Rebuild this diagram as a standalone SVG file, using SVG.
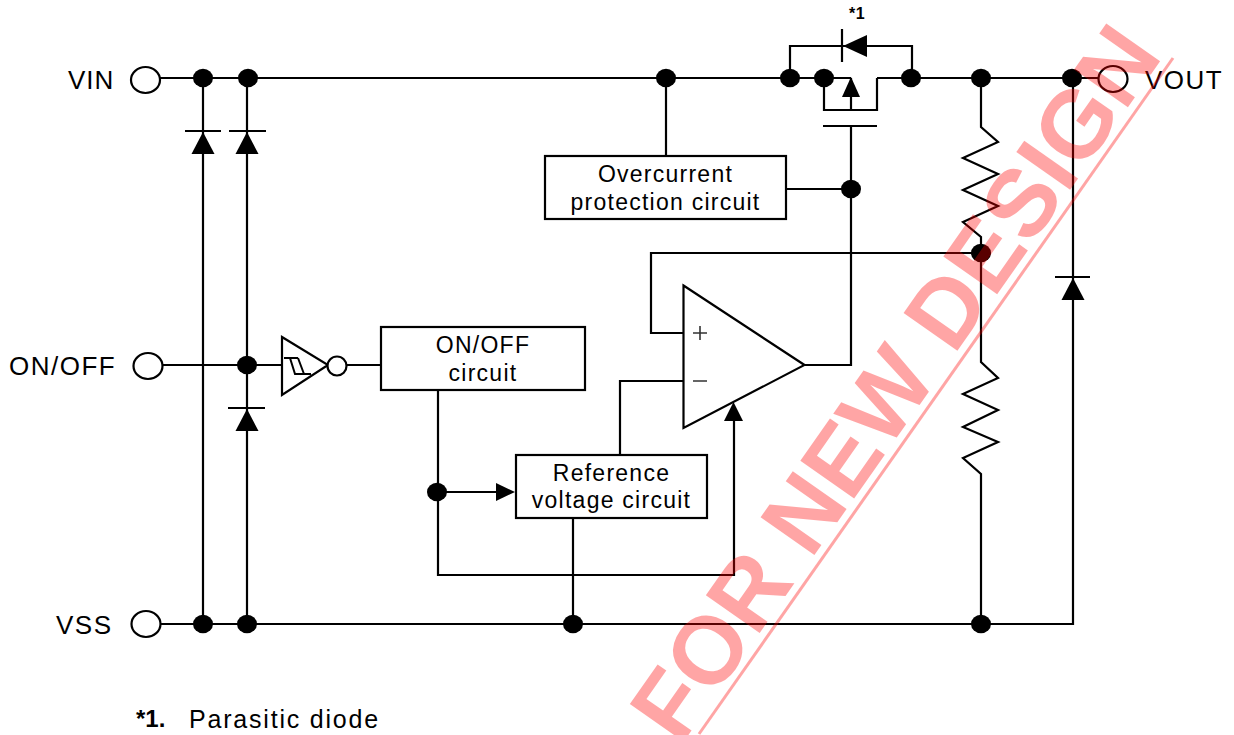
<svg xmlns="http://www.w3.org/2000/svg" width="1234" height="735" viewBox="0 0 1234 735">
<defs>
<style>
text{font-family:"Liberation Sans",Arial,sans-serif;fill:#000}
.lb{font-size:26px;letter-spacing:1.5px}
.bx{font-size:23px;letter-spacing:1.25px;text-anchor:middle}
.w{fill:none;stroke:#000;stroke-width:2.2;stroke-linejoin:miter}
.b{fill:#fff;stroke:#000;stroke-width:2.2}
.t{fill:none;stroke:#000;stroke-width:2}
.d{fill:#000;stroke:none}
.s{fill:none;stroke:#333;stroke-width:1.6}
</style>
<ellipse id="dot" class="d" rx="10" ry="9.300"/>
<path id="up" class="d" d="M0-11L11.500 11H-11.500Z"/>
</defs>
<rect width="1234" height="735" fill="#fff"/>
<g id="connectors" class="w">
<path d="M160 78H851M877 78H1099"/>
<path d="M160 624H1073V78"/>
<path d="M162 365H282M347 365H381"/>
<path d="M203 78V624M247 78V624"/>
<path d="M185 131H221M229 131H266M228 408H265M1055 277H1090"/>
<path d="M790 78V46H912V78M842 29V62"/>
<path d="M824 78V110H877V78M851 78V110M823 126H877M851 126V365H805M787 189H851"/>
<path d="M666 78V156"/>
<path d="M981 78V127L998 142L963 158L998 174L963 190L998 206L963 222L981 237V253"/>
<path d="M981 253H651V333H684"/>
<path d="M981 253V362L998 378L963 394L998 410L963 427L998 442L963 458L981 474V624"/>
<path d="M438 390V575H734V415M438 492H500M620 455V381H684M573 519V624"/>
</g>
<use href="#up" x="203" y="143"/>
<use href="#up" x="247" y="143"/>
<use href="#up" x="247" y="420"/>
<use href="#up" x="1073" y="289"/>
<path class="d" d="M851 77L860 97H842Z"/>
<path class="d" d="M733.500 402L743 421H724Z"/>
<path class="d" d="M843 46L867 35V57Z"/>
<path class="d" d="M515 492L496 483V501Z"/>
<g id="dots">
<use href="#dot" x="203" y="78"/><use href="#dot" x="248" y="78"/><use href="#dot" x="666" y="78"/>
<use href="#dot" x="790" y="78"/><use href="#dot" x="824" y="78"/><use href="#dot" x="911" y="78"/>
<use href="#dot" x="981" y="78"/><use href="#dot" x="1072" y="78"/><use href="#dot" x="851" y="189"/>
<use href="#dot" x="981" y="253"/><use href="#dot" x="247" y="365"/><use href="#dot" x="437" y="492"/>
<use href="#dot" x="203" y="624"/><use href="#dot" x="247" y="624"/><use href="#dot" x="573" y="624"/><use href="#dot" x="981" y="624"/>
</g>
<g id="vin"><ellipse class="b" cx="145.500" cy="80" rx="14.500" ry="13"/><text class="lb" x="68" y="88.500" style="letter-spacing:1px">VIN</text></g>
<g id="onoff"><ellipse class="b" cx="148" cy="366" rx="14.500" ry="13"/><text class="lb" x="9" y="374.500">ON/OFF</text></g>
<g id="vss"><ellipse class="b" cx="146" cy="624" rx="14.500" ry="13"/><text class="lb" x="56" y="633.500">VSS</text></g>
<g id="vout"><ellipse class="b" cx="1113" cy="79" rx="14.500" ry="13"/><text class="lb" x="1145" y="88.500">VOUT</text></g>
<g id="parasitic"><text x="849" y="19" font-size="16" font-weight="bold" letter-spacing=".5">*1</text></g>
<g id="overcurrent"><rect class="b" x="545" y="156" width="241" height="63"/><text class="bx" x="665.500" y="182">Overcurrent</text><text class="bx" x="665.500" y="210">protection circuit</text></g>
<g id="onoffcircuit"><rect class="b" x="381" y="327" width="204" height="63"/><text class="bx" x="483" y="353">ON/OFF</text><text class="bx" x="483" y="381">circuit</text></g>
<g id="reference"><rect class="b" x="516" y="455" width="191" height="63"/><text class="bx" x="611.500" y="481">Reference</text><text class="bx" x="611.500" y="508">voltage circuit</text></g>
<g id="inverter"><path class="b" d="M282 337L328 365L282 395Z"/><path class="t" d="M284 358H298M290 358L295 374H311M298 358L304 374"/><circle class="b" cx="337" cy="366" r="9.500"/></g>
<g id="opamp"><path class="b" d="M683.500 285.500L804.500 365L683.500 428Z"/><path class="s" d="M693 333H707M700 326V340M693 381H707"/></g>
<text x="136" y="727" font-size="24" font-weight="bold">*1.</text>
<text x="189" y="727.500" font-size="25" letter-spacing="1.800">Parasitic diode</text>
<g id="watermark" opacity=".35">
<text transform="translate(680 747) rotate(-55)" font-size="95.500" font-weight="bold" style="fill:#f00">FOR NEW DESIGN</text>
<path d="M699 734L1173 58" stroke="#f00" stroke-width="3" fill="none"/>
</g>
</svg>
